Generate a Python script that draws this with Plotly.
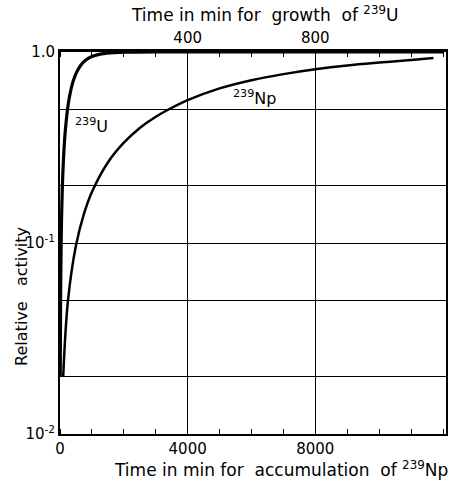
import plotly.graph_objects as go

# 239Np accumulation: time in min (bottom axis) and relative activity
np_time = [100, 250, 500, 750, 1000, 1500, 2000, 2500, 3000, 3400, 4000, 5000,
           6000, 7000, 8000, 9000, 10000, 11000, 11700]
np_activity = [0.020, 0.050, 0.097, 0.142, 0.185, 0.264, 0.335, 0.400, 0.458,
               0.500, 0.560, 0.645, 0.712, 0.766, 0.812, 0.850, 0.880, 0.908, 0.93]

# 239U growth: time in min (top axis) and relative activity
u_time = [0.7, 2, 3.5, 5, 7.5, 10, 15, 23.5, 30, 40, 50, 65, 80, 100, 130,
          170, 220, 300, 1200]
u_activity = [0.020, 0.057, 0.098, 0.137, 0.20, 0.255, 0.358, 0.50, 0.587,
              0.693, 0.771, 0.853, 0.906, 0.948, 0.978, 0.993, 0.998, 1.0, 1.0]

bottom_ticks = [0, 4000, 8000]
bottom_labels = ["0", "4000", "8000"]
top_ticks = [400, 800]
top_labels = ["400", "800"]
y_ticks = [0.01, 0.1, 1.0]
y_labels = ["10<sup>-2</sup>", "10<sup>-1</sup>", "1.0"]
y_grid = [0.02, 0.05, 0.2, 0.5]

FONT = "DejaVu Sans"
WIDE = "&nbsp; "  # wider gap between some words of the axis titles

fig = go.Figure()
fig.add_trace(go.Scatter(x=np_time, y=np_activity, mode="lines",
                         line=dict(color="black", width=2.5, shape="spline"),
                         xaxis="x", yaxis="y", showlegend=False))
fig.add_trace(go.Scatter(x=u_time, y=u_activity, mode="lines",
                         line=dict(color="black", width=3.2, shape="spline"),
                         xaxis="x2", yaxis="y", showlegend=False))

fig.update_layout(
    width=457, height=480,
    margin=dict(l=60, r=9, t=52, b=46),
    paper_bgcolor="white", plot_bgcolor="white",
    font=dict(family=FONT, size=15, color="black"),
    xaxis=dict(
        range=[0, 12094], tickvals=bottom_ticks, ticktext=bottom_labels,
        ticks="", showgrid=True, gridcolor="black", gridwidth=1.3,
        showline=True, linecolor="black", linewidth=2, mirror=False,
        zeroline=False, tickfont=dict(size=15),
        minor=dict(dtick=1000, ticks="inside", ticklen=5, tickcolor="black",
                   tickwidth=1.3, showgrid=False),
    ),
    xaxis2=dict(
        range=[0, 1209.4], overlaying="x", side="top", anchor="y",
        tickvals=top_ticks, ticktext=top_labels, ticks="",
        showgrid=False, showline=True, linecolor="black", linewidth=2.5,
        zeroline=False, tickfont=dict(size=15),
        minor=dict(dtick=100, ticks="inside", ticklen=5, tickcolor="black",
                   tickwidth=1.3, showgrid=False),
    ),
    yaxis=dict(
        type="log", range=[-2, 0], tickvals=y_ticks, ticktext=y_labels,
        ticks="", showgrid=True, gridcolor="black", gridwidth=1.3,
        showline=True, linecolor="black", linewidth=2, mirror=True,
        zeroline=False, tickfont=dict(size=15),
        minor=dict(tickvals=y_grid, ticks="", showgrid=True,
                   gridcolor="black", gridwidth=1.3),
    ),
)

# Axis titles
fig.add_annotation(
    text="Time in min for" + WIDE + "accumulation" + WIDE + "of <sup>239</sup>Np",
    xref="paper", yref="paper", x=0.573, y=-0.058,
    xanchor="center", yanchor="top", showarrow=False, font=dict(size=17))
fig.add_annotation(
    text="Time in min for" + WIDE + "growth" + WIDE + "of <sup>239</sup>U",
    xref="paper", yref="paper", x=0.53, y=1.066,
    xanchor="center", yanchor="bottom", showarrow=False, font=dict(size=17))
fig.add_annotation(
    text="Relative" + WIDE + "&nbsp;activity", textangle=-90,
    xref="paper", yref="paper", x=-0.1, y=0.36,
    xanchor="center", yanchor="middle", showarrow=False, font=dict(size=16))

# Curve labels
fig.add_annotation(text="<sup>239</sup>U", xref="paper", yref="paper",
                   x=0.033, y=0.808, xanchor="left", yanchor="middle",
                   showarrow=False, font=dict(size=16))
fig.add_annotation(text="<sup>239</sup>Np", xref="paper", yref="paper",
                   x=0.443, y=0.882, xanchor="left", yanchor="middle",
                   showarrow=False, font=dict(size=16))

fig.write_html("out.html")
